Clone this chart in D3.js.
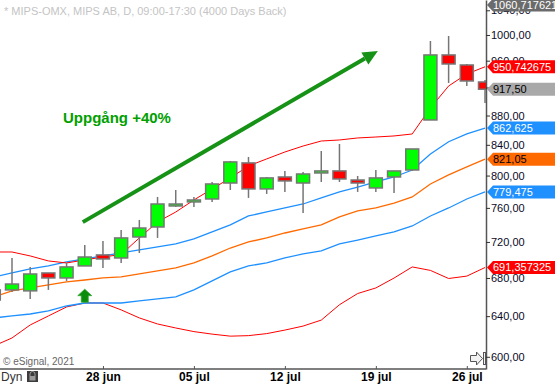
<!DOCTYPE html>
<html>
<head>
<meta charset="utf-8">
<script src="https://cdn.jsdelivr.net/npm/d3@7"></script>
<style>
body { margin: 0; background: #fff; }
svg { display: block; font-family: Arial, "Liberation Sans", sans-serif; }
</style>
</head>
<body>
<script>
// trading days shown (first one is cut by the left edge)
var dates = ["17 jun", "18 jun", "21 jun", "22 jun", "23 jun", "24 jun", "28 jun", "29 jun", "30 jun", "01 jul",
    "02 jul", "05 jul", "06 jul", "07 jul", "08 jul", "09 jul", "12 jul", "13 jul", "14 jul", "15 jul",
    "16 jul", "19 jul", "20 jul", "21 jul", "22 jul", "23 jul", "26 jul", "27 jul"];

var opens  = [656.6, 667.2, 666.2, 685.4, 680.0, 693.1, 705.3, 701.9, 725.7, 737.3, 762.3, 767.2, 770.8, 790.6,
    816.2, 783.2, 798.2, 790.6, 803.3, 805.9, 794.4, 784.4, 798.2, 807.1, 873.8, 968.8, 953.5, 928.1];
var highs  = [669.3, 701.9, 692.0, 685.4, 696.4, 716.6, 721.1, 733.8, 745.6, 773.3, 781.9, 773.3, 791.9, 818.8,
    824.0, 798.2, 805.9, 804.6, 831.8, 841.1, 799.5, 807.1, 805.9, 834.5, 990.5, 998.4, 955.0, 931.1];
var lows   = [654.6, 665.1, 657.7, 667.2, 676.8, 693.1, 690.9, 696.4, 707.5, 724.6, 761.1, 761.1, 767.2, 781.9,
    772.1, 777.0, 779.5, 753.9, 791.9, 791.9, 779.5, 779.5, 778.2, 805.9, 873.8, 926.6, 922.2, 897.7];
var closes = [667.2, 673.5, 684.3, 680.0, 692.0, 703.0, 700.8, 724.6, 736.1, 764.7, 764.7, 769.6, 789.4, 817.5,
    783.2, 797.0, 793.2, 802.0, 805.9, 795.7, 790.6, 797.0, 805.9, 834.5, 968.8, 955.0, 929.6, 917.5];

// bollinger bands (red) + middle (orange)
var bbUpper = [708.6, 708.6, 704.2, 698.6, 696.4, 699.7, 703.0, 705.8, 724.6, 743.2, 755.0, 769.6, 783.2, 796.9,
    812.3, 821.4, 830.5, 838.4, 845.1, 846.5, 849.2, 850.5, 851.9, 854.6, 890.6, 922.2, 940.0, 950.742675];
var bbMiddle = [659.8, 666.2, 669.3, 672.5, 675.7, 677.8, 680.0, 681.1, 684.3, 687.6, 690.9, 696.4, 704.2, 713.1,
    720.0, 724.6, 730.3, 735.0, 739.7, 749.1, 756.3, 759.9, 765.9, 773.3, 789.4, 800.8, 811.0, 821.05];
var bbLower = [610.4, 618.2, 631.1, 640.2, 649.4, 653.5, 653.5, 646.4, 638.2, 632.1, 628.1, 624.5, 622.0, 620.0,
    620.5, 622.5, 626.0, 630.0, 636.0, 651.7, 663.4, 669.3, 679.9, 692.0, 688.2, 679.4, 682.0, 691.357325];
// channel (blue)
var chUpper = [681.1, 685.4, 689.8, 693.1, 697.5, 700.8, 704.2, 707.5, 710.9, 714.3, 717.7, 723.4, 731.5, 739.7,
    750.3, 755.1, 759.9, 764.7, 772.1, 779.5, 785.6, 791.9, 798.2, 807.1, 827.9, 844.1, 854.6, 862.625];
var chLower = [638.2, 640.2, 642.2, 645.3, 650.4, 653.5, 653.5, 653.5, 655.6, 657.7, 659.8, 667.2, 676.8, 686.5,
    693.1, 696.4, 701.9, 706.4, 709.8, 717.7, 722.2, 726.9, 731.5, 738.5, 750.3, 759.9, 770.8, 779.475];

var yTicks = [600, 640, 680, 720, 760, 800, 840, 880, 920, 960, 1000, 1040];
var xTickDates = ["28 jun", "05 jul", "12 jul", "19 jul", "26 jul"];

var labelValues = [1060.717621, 950.742675, 917.50, 862.625, 821.05, 779.475, 691.357325];
var labelTexts = ["1060,717621", "950,742675", "917,50", "862,625", "821,05", "779,475", "691,357325"];

// annotations
var trendFrom = ["24 jun", 743];
var trendTo = ["19 jul", 975];
var signalDate = "24 jun", signalValue = 668;

// styles
var labelStyles = [
    {bg: "#6b6b6b", fg: "#fff"}, {bg: "#ff0000", fg: "#fff"}, {bg: "#a9a9a9", fg: "#000"},
    {bg: "#1e90ff", fg: "#fff"}, {bg: "#ff6a00", fg: "#000"}, {bg: "#1e90ff", fg: "#fff"},
    {bg: "#ff0000", fg: "#fff"}];

var width = 555, height = 387,
    plotRight = 486, plotBottom = 369;

var svg = d3.select("body").append("svg")
    .attr("width", width)
    .attr("height", height);

var x = d3.scalePoint().domain(dates).range([-6.2, 485]);
var y = d3.scaleLog().domain([588.5, 1057.1]).range([plotBottom, 0]);

svg.append("clipPath").attr("id", "plotClip")
    .append("rect").attr("x", 0).attr("y", 0).attr("width", plotRight).attr("height", plotBottom);

//title
svg.append("text")
    .attr("x", 4).attr("y", 15)
    .attr("font-size", 11)
    .attr("fill", "#c4c4c4")
    .text("* MIPS-OMX, MIPS AB, D, 09:00-17:30 (4000 Days Back)");

svg.append("text")
    .attr("x", 3).attr("y", 365)
    .attr("font-size", 10)
    .attr("fill", "#666")
    .text("\u00a9 eSignal, 2021");

var plot = svg.append("g").attr("clip-path", "url(#plotClip)");

//indicator lines
var series = [
    {vals: bbLower, color: "#ff0000", w: 1},
    {vals: chLower, color: "#1e90ff", w: 1.3},
    {vals: bbMiddle, color: "#ff6a00", w: 1.3},
    {vals: chUpper, color: "#1e90ff", w: 1.3},
    {vals: bbUpper, color: "#ff0000", w: 1}
];
var line = d3.line()
    .x(function(d, i) { return x(dates[i]); })
    .y(function(d) { return y(d); });

plot.selectAll(".ind")
    .data(series)
    .enter()
    .append("path")
    .attr("class", "ind")
    .attr("d", function(s) { return line(s.vals); })
    .attr("fill", "none")
    .attr("stroke", function(s) { return s.color; })
    .attr("stroke-width", function(s) { return s.w; });

//candles
var candles = plot.selectAll(".candle")
    .data(dates)
    .enter()
    .append("g")
    .attr("class", "candle");

candles.append("line")
    .attr("x1", function(d) { return x(d); })
    .attr("x2", function(d) { return x(d); })
    .attr("y1", function(d, i) { return y(highs[i]); })
    .attr("y2", function(d, i) { return y(lows[i]); })
    .attr("stroke", "#767676")
    .attr("stroke-width", 1.5);

candles.append("rect")
    .attr("x", function(d) { return x(d) - 6.5; })
    .attr("width", 13)
    .attr("y", function(d, i) { return y(Math.max(opens[i], closes[i])); })
    .attr("height", function(d, i) {
        return Math.max(1, y(Math.min(opens[i], closes[i])) - y(Math.max(opens[i], closes[i])));
    })
    .attr("fill", function(d, i) { return closes[i] >= opens[i] ? "#00ff00" : "#ff0000"; })
    .attr("stroke", "#767676")
    .attr("stroke-width", 1.5);

//trend arrow
var ax1 = x(trendFrom[0]) - 2, ay1 = y(trendFrom[1]),
    ax2 = x(trendTo[0]) + 2, ay2 = y(trendTo[1]);
var ang = Math.atan2(ay2 - ay1, ax2 - ax1),
    headLen = 15, headW = 7;
var bx = ax2 - headLen * Math.cos(ang), by = ay2 - headLen * Math.sin(ang);
plot.append("line")
    .attr("x1", ax1).attr("y1", ay1)
    .attr("x2", bx).attr("y2", by)
    .attr("stroke", "#169216")
    .attr("stroke-width", 4);
plot.append("path")
    .attr("d", "M" + ax2 + "," + ay2 +
        "L" + (bx + headW * Math.sin(ang)) + "," + (by - headW * Math.cos(ang)) +
        "L" + (bx - headW * Math.sin(ang)) + "," + (by + headW * Math.cos(ang)) + "Z")
    .attr("fill", "#169216");

//signal arrow
var sx = x(signalDate), sy = y(signalValue);
plot.append("path")
    .attr("d", "M" + sx + "," + sy + "l7,6.5h-3.5v6.5h-7v-6.5h-3.5z")
    .attr("fill", "#0c8c0c")
    .attr("stroke", "#2fa82f")
    .attr("stroke-width", 0.8);

svg.append("text")
    .attr("x", 63).attr("y", 123)
    .attr("font-size", 15)
    .attr("font-weight", "bold")
    .attr("fill", "#00a000")
    .text("Uppg\u00e5ng +40%");

//right price axis
var yAxis = d3.axisRight(y)
    .tickValues(yTicks)
    .tickSize(4)
    .tickSizeOuter(0)
    .tickPadding(1)
    .tickFormat(function(d) { return d3.format(".2f")(d).replace(".", ","); });

var yg = svg.append("g")
    .attr("transform", "translate(" + plotRight + ",0)")
    .call(yAxis);
yg.attr("font-size", 11).attr("font-family", null);
yg.select(".domain").attr("stroke", "#555").attr("stroke-width", 1.5);
yg.selectAll(".tick line").attr("stroke", "#333");
yg.selectAll(".tick text").attr("fill", "#0a0a28");

//value flags
labelValues.forEach(function(v, i) {
    var cy = Math.max(5, y(v));
    var st = labelStyles[i];
    svg.append("path")
        .attr("d", "M487," + cy + "L493," + (cy - 6.5) + "H556V" + (cy + 6.5) + "H493Z")
        .attr("fill", st.bg);
    svg.append("text")
        .attr("x", 493).attr("y", cy)
        .attr("dy", "0.36em")
        .attr("font-size", 11)
        .attr("fill", st.fg)
        .text(labelTexts[i]);
});

//bottom time axis
svg.append("line")
    .attr("x1", 0).attr("x2", plotRight)
    .attr("y1", plotBottom).attr("y2", plotBottom)
    .attr("stroke", "#555").attr("stroke-width", 1.5);

var xAxis = d3.axisBottom(x)
    .tickValues(xTickDates)
    .tickSize(-3)
    .tickPadding(3);
var xg = svg.append("g")
    .attr("transform", "translate(0," + plotBottom + ")")
    .call(xAxis);
xg.select(".domain").remove();
xg.attr("font-size", 12).attr("font-family", null).attr("font-weight", "bold");
xg.selectAll(".tick line").attr("stroke", "#555");
xg.selectAll(".tick text").attr("fill", "#000");

svg.append("text")
    .attr("x", 1).attr("y", 381)
    .attr("font-size", 12)
    .attr("fill", "#333")
    .text("Dyn");

//lock icon
svg.append("rect").attr("x", 27).attr("y", 371).attr("width", 11).attr("height", 11).attr("fill", "#3c3c3c");
svg.append("path")
    .attr("d", "M30,376v-2a2.5,2.5 0 0 1 5,0v2")
    .attr("fill", "none").attr("stroke", "#9a9a9a").attr("stroke-width", 1);
svg.append("rect").attr("x", 29.5).attr("y", 376).attr("width", 6).attr("height", 4.5).attr("fill", "#9a9a9a");

//scroll-to-end icon
svg.append("path")
    .attr("d", "M470.5,355.5h6v-3.5l6,6.5l-6,6.5v-3.5h-6z")
    .attr("fill", "#f2f2f2").attr("stroke", "#555").attr("stroke-width", 1);
svg.append("rect").attr("x", 483.5).attr("y", 352.5).attr("width", 2).attr("height", 12)
    .attr("fill", "#f2f2f2").attr("stroke", "#555").attr("stroke-width", 1);
</script>
</body>
</html>
